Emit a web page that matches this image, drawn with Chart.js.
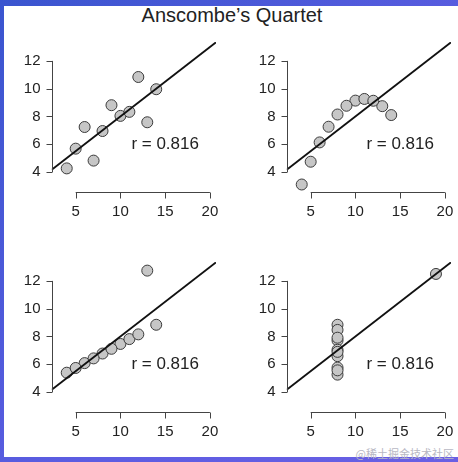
<!DOCTYPE html>
<html>
<head>
<meta charset="utf-8">
<script src="https://cdn.jsdelivr.net/npm/chart.js@4"></script>
<style>
  html, body { margin: 0; padding: 0; }
  body {
    width: 458px; height: 462px; overflow: hidden; position: relative;
    background: linear-gradient(135deg, #3a55cf, #5d5de2 60%, #6a5fe4);
  }
  #paper { position: absolute; left: 4px; top: 6px; right: 0; bottom: 5px; background: #fff; }
  canvas { position: absolute; }
  #title {
    position: absolute; left: 0; width: 464px; top: 4px; text-align: center;
    font: 20px "Liberation Sans", Arial, sans-serif; color: #222;
  }
  #mark {
    position: absolute; right: 4px; top: 445px;
    font: 11px "Noto Sans CJK SC", sans-serif; color: #b8b8c4;
  }
</style>
</head>
<body>
<div id="paper"></div>
<div id="title">Anscombe’s Quartet</div>
<canvas id="c1" width="234" height="220" style="left:0px;top:0px"></canvas>
<canvas id="c2" width="234" height="220" style="left:234.5px;top:0px"></canvas>
<canvas id="c3" width="234" height="220" style="left:0px;top:220px"></canvas>
<canvas id="c4" width="234" height="220" style="left:234.5px;top:220px"></canvas>
<div id="mark">@稀土掘金技术社区</div>
<script>
// Anscombe's quartet
const x123 = [10, 8, 13, 9, 11, 14, 6, 4, 12, 7, 5];
const y1 = [8.04, 6.95, 7.58, 8.81, 8.33, 9.96, 7.24, 4.26, 10.84, 4.82, 5.68];
const y2 = [9.14, 8.14, 8.74, 8.77, 9.26, 8.10, 6.13, 3.10, 9.13, 7.26, 4.74];
const y3 = [7.46, 6.77, 12.74, 7.11, 7.81, 8.84, 6.08, 5.39, 8.15, 6.42, 5.73];
const x4 = [8, 8, 8, 8, 8, 8, 8, 19, 8, 8, 8];
const y4 = [6.58, 5.76, 7.71, 8.84, 8.47, 7.04, 5.25, 12.50, 5.56, 7.91, 6.89];

const xTicks = [5, 10, 15, 20];
const yTicks = [4, 6, 8, 10, 12];
const xLim = [3, 20];
const yLim = [4, 13];
const rLabel = 'r = 0.816';
const rPos = [15, 6];

const FONT = '"Liberation Sans", Arial, sans-serif';
const REGION_H = 135;   // plot region height in px
const EXTRA = 1;        // extra y units below the region so low points still draw

// R style: axis range padded 4% on each side
function expand(lim) {
  const d = (lim[1] - lim[0]) * 0.04;
  return [lim[0] - d, lim[1] + d];
}

function fit(xs, ys) {
  const n = xs.length;
  const mx = xs.reduce((a, b) => a + b, 0) / n;
  const my = ys.reduce((a, b) => a + b, 0) / n;
  let sxy = 0, sxx = 0;
  for (let i = 0; i < n; i++) {
    sxy += (xs[i] - mx) * (ys[i] - my);
    sxx += (xs[i] - mx) * (xs[i] - mx);
  }
  const b = sxy / sxx;
  return { a: my - b * mx, b: b };
}

const rAxes = {
  id: 'rAxes',
  afterDraw(chart) {
    const ctx = chart.ctx;
    const xs = chart.scales.x, ys = chart.scales.y;
    const yr = expand(yLim);
    ctx.save();
    ctx.strokeStyle = '#444';
    ctx.fillStyle = '#222';
    ctx.lineWidth = 1;
    ctx.font = '15px ' + FONT;

    // y axis
    const lx = Math.round(chart.chartArea.left) + 0.5;
    ctx.beginPath();
    ctx.moveTo(lx, ys.getPixelForValue(yTicks[0]));
    ctx.lineTo(lx, ys.getPixelForValue(yTicks[yTicks.length - 1]));
    yTicks.forEach(v => {
      const py = Math.round(ys.getPixelForValue(v)) + 0.5;
      ctx.moveTo(lx, py);
      ctx.lineTo(lx - 6, py);
    });
    ctx.stroke();
    ctx.textAlign = 'right';
    ctx.textBaseline = 'middle';
    yTicks.forEach(v => ctx.fillText(String(v), lx - 12, ys.getPixelForValue(v)));

    // x axis, set below the plot region
    const by = Math.round(ys.getPixelForValue(yr[0]) + 15) + 0.5;
    ctx.beginPath();
    ctx.moveTo(xs.getPixelForValue(xTicks[0]), by);
    ctx.lineTo(xs.getPixelForValue(xTicks[xTicks.length - 1]), by);
    xTicks.forEach(v => {
      const px = Math.round(xs.getPixelForValue(v)) + 0.5;
      ctx.moveTo(px, by);
      ctx.lineTo(px, by + 6);
    });
    ctx.stroke();
    ctx.textAlign = 'center';
    ctx.textBaseline = 'middle';
    xTicks.forEach(v => ctx.fillText(String(v), xs.getPixelForValue(v), by + 19));

    // correlation label
    ctx.font = '17px ' + FONT;
    ctx.fillText(rLabel, xs.getPixelForValue(rPos[0]), ys.getPixelForValue(rPos[1]));
    ctx.restore();
  }
};

function panel(id, xs, ys) {
  const xr = expand(xLim), yr = expand(yLim);
  const f = fit(xs, ys);
  const pts = xs.map((x, i) => ({ x: x, y: ys[i] }));
  const extraPx = REGION_H / (yr[1] - yr[0]) * EXTRA;
  new Chart(document.getElementById(id), {
    type: 'scatter',
    data: {
      datasets: [{
        type: 'line',
        data: [{ x: xr[0], y: f.a + f.b * xr[0] }, { x: xr[1], y: f.a + f.b * xr[1] }],
        borderColor: '#111',
        borderWidth: 1.8,
        pointRadius: 0,
        fill: false
      }, {
        data: pts,
        backgroundColor: '#c6c6c6',
        borderColor: '#3a3a3a',
        borderWidth: 1,
        pointRadius: 5.5,
        clip: false
      }]
    },
    options: {
      responsive: false,
      animation: false,
      events: [],
      layout: { padding: { left: 51.7, right: 18, top: 42, bottom: 43 - extraPx } },
      plugins: { legend: { display: false }, tooltip: { enabled: false } },
      scales: {
        x: { type: 'linear', min: xr[0], max: xr[1], display: false },
        y: { type: 'linear', min: yr[0] - EXTRA, max: yr[1], display: false }
      }
    },
    plugins: [rAxes]
  });
}

panel('c1', x123, y1);
panel('c2', x123, y2);
panel('c3', x123, y3);
panel('c4', x4, y4);
</script>
</body>
</html>
